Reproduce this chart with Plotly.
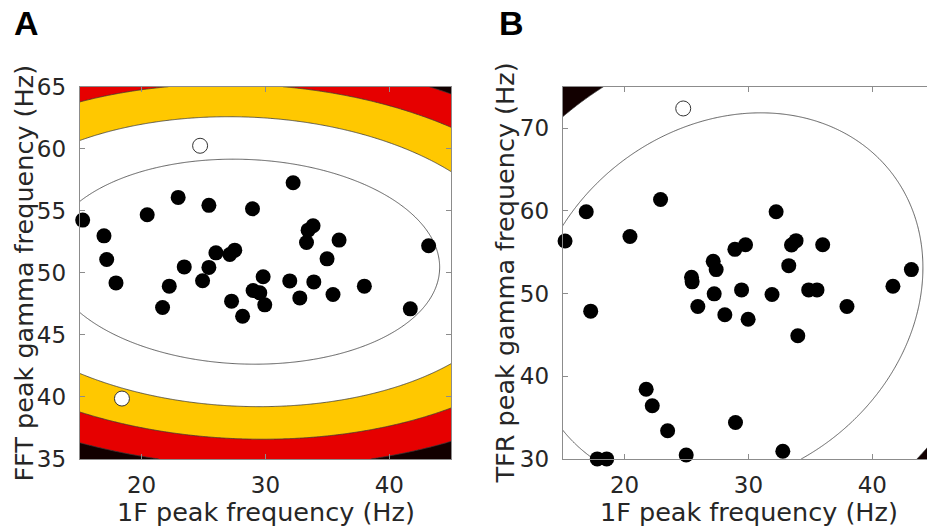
import numpy as np
import plotly.graph_objects as go

# ---------------- data ----------------
# Panel A: FFT peak gamma vs 1F peak frequency
a_x = [15.24, 16.96, 17.18, 17.93, 20.45, 22.95, 25.43, 28.95, 32.23, 33.31, 33.44, 33.84,
       35.94, 34.97, 33.90, 31.96, 32.77, 35.45, 37.98, 41.69, 43.17, 29.81, 29.00, 29.54,
       29.94, 28.15, 27.26, 27.12, 27.52, 26.00, 25.43, 24.92, 23.44, 22.23, 21.69]
a_y = [54.25, 52.98, 51.08, 49.19, 54.68, 56.08, 55.44, 55.16, 57.26, 52.45, 53.44, 53.79,
       52.64, 51.13, 49.27, 49.35, 47.98, 48.26, 48.93, 47.10, 52.18, 49.68, 48.58, 48.39,
       47.42, 46.50, 47.72, 51.48, 51.83, 51.61, 50.44, 49.36, 50.48, 48.93, 47.21]
a_open_x = [24.72, 18.41]
a_open_y = [60.24, 39.87]

# Panel B: TFR peak gamma vs 1F peak frequency
b_x = [15.19, 16.90, 20.43, 22.90, 32.23, 27.15, 27.39, 25.40, 25.45, 28.90, 29.76, 33.47,
       33.84, 35.99, 33.25, 43.15, 41.66, 34.86, 35.53, 31.90, 29.44, 27.23, 25.91, 28.09,
       29.97, 37.95, 33.98, 17.26, 21.74, 22.23, 23.47, 28.95, 24.97, 32.77, 17.79, 18.55]
b_y = [56.35, 59.88, 56.90, 61.36, 59.88, 53.89, 52.89, 51.97, 51.41, 55.34, 55.90, 55.86,
       56.39, 55.90, 53.37, 52.89, 50.88, 50.44, 50.44, 49.88, 50.44, 49.96, 48.43, 47.43,
       46.90, 48.43, 44.90, 47.87, 38.43, 36.43, 33.41, 34.42, 30.48, 30.93, 30.01, 30.01]
b_open_x = [24.73]
b_open_y = [72.37]

# ellipse (Gaussian) parameters: centre, 1-level half extents, correlation
ell_a = dict(cx=28.27, cy=50.90, sx=15.79, sy=8.26, rho=-0.055)
ell_b = dict(cx=28.22, cy=49.15, sx=15.86, sy=22.69, rho=0.175)

a_xticks = [20, 30, 40]
a_yticks = [35, 40, 45, 50, 55, 60, 65]
b_xticks = [20, 30, 40]
b_yticks = [30, 40, 50, 60, 70]

a_xrange = [15, 45]
a_yrange = [35, 65]
b_yrange = [30, 75]

# ---------------- styling ----------------
W, H = 927, 527
WHITE, YEL, RED, BLK = "#ffffff", "#ffc800", "#e60000", "#120000"
TXT = "#262626"
AX = "#8c8c8c"
FONT = "DejaVu Sans"


def dist2(p, xs, ys):
    X, Y = np.meshgrid(xs, ys)
    a = (X - p["cx"]) / p["sx"]
    b = (Y - p["cy"]) / p["sy"]
    return (a * a - 2 * p["rho"] * a * b + b * b) / (1 - p["rho"] ** 2)


px2x = lambda px: px / W
py2y = lambda py: (H - py) / H

# panel geometry (pixels)
A_L, A_R = 79.7, 451.3
B_L = 562.7
TOP, BOT = 86.7, 459.0
ppu_x = (A_R - A_L) / 30.0
b_xrange = [15, 15 + (W - B_L) / ppu_x]

fig = go.Figure()

# Panel A filled contours
xs = np.linspace(a_xrange[0], a_xrange[1], 401)
ys = np.linspace(a_yrange[0], a_yrange[1], 401)
fig.add_trace(go.Contour(
    x=xs, y=ys, z=dist2(ell_a, xs, ys), xaxis="x", yaxis="y",
    autocontour=False,
    contours=dict(start=1, end=4, size=1, coloring="fill", showlines=True),
    line=dict(color="#3a3a3a", width=0.8, smoothing=1),
    colorscale=[[0, WHITE], [0.375, WHITE], [0.375, YEL], [0.625, YEL],
                [0.625, RED], [0.875, RED], [0.875, BLK], [1, BLK]],
    showscale=False, hoverinfo="skip"))

# Panel B filled contours
xs2 = np.linspace(15, 45, 401)
ys2 = np.linspace(b_yrange[0], b_yrange[1], 401)
fig.add_trace(go.Contour(
    x=xs2, y=ys2, z=dist2(ell_b, xs2, ys2), xaxis="x2", yaxis="y2",
    autocontour=False,
    contours=dict(start=1, end=2, size=1, coloring="fill", showlines=True),
    line=dict(color="#3a3a3a", width=0.8, smoothing=1),
    colorscale=[[0, WHITE], [0.75, WHITE], [0.75, BLK], [1, BLK]],
    showscale=False, hoverinfo="skip"))

MS = 15
for xa, ya, xx, yy, ox, oy in [("x", "y", a_x, a_y, a_open_x, a_open_y),
                               ("x2", "y2", b_x, b_y, b_open_x, b_open_y)]:
    fig.add_trace(go.Scatter(x=xx, y=yy, mode="markers", xaxis=xa, yaxis=ya,
                             marker=dict(size=MS, color="black", line=dict(width=0)),
                             cliponaxis=False, showlegend=False, hoverinfo="skip"))
    fig.add_trace(go.Scatter(x=ox, y=oy, mode="markers", xaxis=xa, yaxis=ya,
                             marker=dict(size=MS, color="white", line=dict(width=1, color="#333333")),
                             cliponaxis=False, showlegend=False, hoverinfo="skip"))

common = dict(showgrid=False, zeroline=False, showline=True, linecolor=AX, linewidth=1,
              ticks="inside", ticklen=5, tickcolor=AX, tickwidth=1, automargin=False,
              tickfont=dict(family=FONT, size=23, color=TXT))

fig.update_layout(
    template="none",
    width=W, height=H, margin=dict(l=0, r=0, t=0, b=0, pad=0, autoexpand=False),
    paper_bgcolor="white", plot_bgcolor="white", showlegend=False,
    xaxis=dict(domain=[px2x(A_L), px2x(A_R)], range=a_xrange, tickvals=a_xticks,
               mirror="ticks", anchor="y", ticklabelstandoff=5, **common),
    yaxis=dict(domain=[py2y(BOT), py2y(TOP)], range=a_yrange, tickvals=a_yticks,
               mirror="ticks", anchor="x", ticklabelstandoff=8, **common),
    xaxis2=dict(domain=[px2x(B_L), 1.0], range=b_xrange, tickvals=b_xticks,
                mirror="ticks", anchor="y2", ticklabelstandoff=5, **common),
    yaxis2=dict(domain=[py2y(BOT), py2y(TOP)], range=b_yrange, tickvals=b_yticks,
                mirror=False, anchor="x2", ticklabelstandoff=8, **common),
)

tfont = dict(family=FONT, size=25.5, color=TXT)
ann = [
    dict(text="1F peak frequency (Hz)", x=px2x((A_L + A_R) / 2), y=py2y(512)),
    dict(text="1F peak frequency (Hz)", x=px2x(B_L + 15 * ppu_x), y=py2y(512)),
    dict(text="FFT peak gamma frequency (Hz)", x=px2x(23.7), y=py2y((TOP + BOT) / 2), textangle=-90),
    dict(text="TFR peak gamma frequency (Hz)", x=px2x(504.7), y=py2y((TOP + BOT) / 2), textangle=-90),
]
for a in ann:
    fig.add_annotation(xref="paper", yref="paper", showarrow=False,
                       xanchor="center", yanchor="middle", font=tfont, **a)

lfont = dict(family="Liberation Sans", size=34, color="black")
fig.add_annotation(text="<b>A</b>", xref="paper", yref="paper", x=px2x(26), y=py2y(22.5),
                   showarrow=False, xanchor="center", yanchor="middle", font=lfont)
fig.add_annotation(text="<b>B</b>", xref="paper", yref="paper", x=px2x(511), y=py2y(22.5),
                   showarrow=False, xanchor="center", yanchor="middle", font=lfont)

fig.write_html("out.html")
